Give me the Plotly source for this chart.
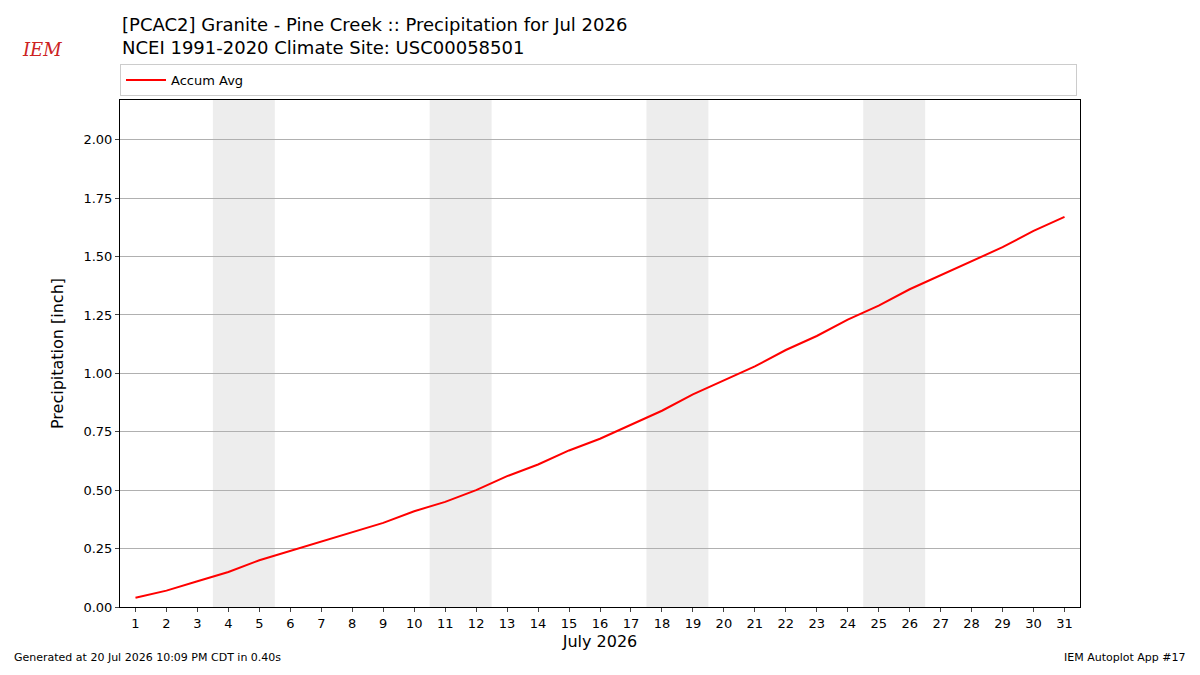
import plotly.graph_objects as go

days = list(range(1, 32))
accum_avg = [0.04, 0.07, 0.11, 0.15, 0.20, 0.24, 0.28, 0.32, 0.36, 0.41, 0.45,
             0.50, 0.56, 0.61, 0.67, 0.72, 0.78, 0.84, 0.91, 0.97, 1.03, 1.10,
             1.16, 1.23, 1.29, 1.36, 1.42, 1.48, 1.54, 1.61, 1.67]
weekends = [(3.5, 5.5), (10.5, 12.5), (17.5, 19.5), (24.5, 26.5)]

fig = go.Figure()
fig.add_trace(go.Scatter(x=days, y=accum_avg, mode="lines", name="Accum Avg",
                         line=dict(color="red", width=2)))
for x0, x1 in weekends:
    fig.add_vrect(x0=x0, x1=x1, fillcolor="#ededed", line_width=0, layer="below")

# page body adds an 8px margin, so the figure is 16px smaller each way
fig.update_layout(
    width=1184, height=659, plot_bgcolor="white", paper_bgcolor="white",
    font=dict(family="DejaVu Sans", color="black", size=12),
    margin=dict(l=112, r=112, t=92, b=60),
    showlegend=True,
    legend=dict(x=0, y=1.008, xanchor="left", yanchor="bottom", orientation="h",
                bordercolor="#cccccc", borderwidth=1, font=dict(size=13),
                entrywidth=900, itemwidth=40, tracegroupgap=0),
)
fig.update_xaxes(range=[0.5, 31.5], tickvals=days, ticks="outside", ticklen=4,
                 showgrid=False, showline=True, linecolor="black", mirror=True,
                 title=dict(text="July 2026", font=dict(size=16), standoff=6),
                 tickfont=dict(size=13))
fig.update_yaxes(range=[0, 2.17], tickvals=[0, 0.25, 0.5, 0.75, 1.0, 1.25, 1.5, 1.75, 2.0],
                 tickformat=".2f", ticks="outside", ticklen=4, showgrid=True,
                 gridcolor="#b0b0b0", showline=True, linecolor="black", mirror=True,
                 title=dict(text="Precipitation [inch]", font=dict(size=16)),
                 tickfont=dict(size=13), zeroline=False)

fig.add_annotation(xref="paper", yref="paper", x=0, y=1.0 + 88 / 507, xanchor="left",
                   yanchor="top", align="left", showarrow=False, font=dict(size=18),
                   text="[PCAC2] Granite - Pine Creek :: Precipitation for Jul 2026<br>"
                        "NCEI 1991-2020 Climate Site: USC00058501")
fig.add_annotation(xref="paper", yref="paper", x=-100 / 960, y=1.0 + 50 / 507,
                   xanchor="left", yanchor="middle", showarrow=False,
                   text="<i>IEM</i>", font=dict(size=18, color="#cc2222", family="DejaVu Serif"))
fig.add_annotation(xref="paper", yref="paper", x=-108 / 960, y=-50 / 507, xanchor="left",
                   yanchor="middle", showarrow=False, font=dict(size=11),
                   text="Generated at 20 Jul 2026 10:09 PM CDT in 0.40s")
fig.add_annotation(xref="paper", yref="paper", x=1 + 108 / 960, y=-50 / 507, xanchor="right",
                   yanchor="middle", showarrow=False, font=dict(size=11),
                   text="IEM Autoplot App #17")

fig.write_html("out.html")
